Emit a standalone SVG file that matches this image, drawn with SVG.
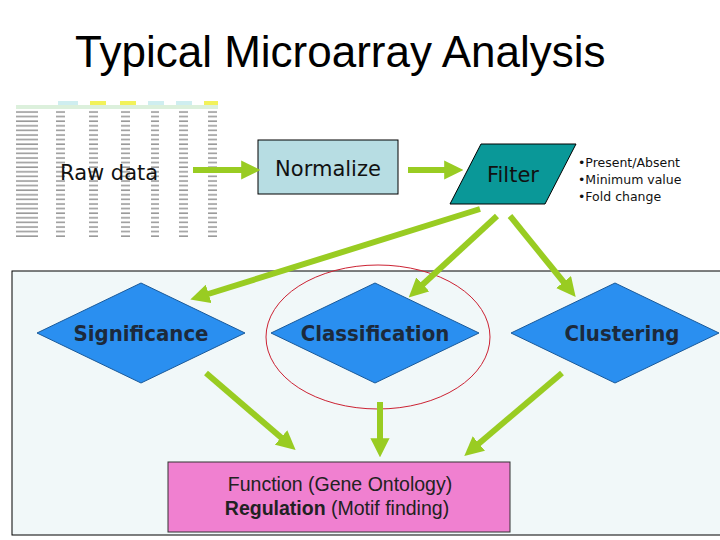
<svg xmlns="http://www.w3.org/2000/svg" width="720" height="540" viewBox="0 0 720 540">
<style>
.arr{stroke:#99cc22;stroke-width:6;fill:none;marker-end:url(#ah)}
.dia{fill:#2a8ff0;stroke:#1a5a9a;stroke-width:1}
.dl{font-family:"DejaVu Sans Condensed","DejaVu Sans",sans-serif;font-weight:bold;font-size:22px;fill:#1c2a3c;text-anchor:middle}
.cell{fill:#9a9a9a}
</style>
<defs>
<marker id="ah" viewBox="0 0 10 10" refX="2" refY="5" markerWidth="3.2" markerHeight="3.2" orient="auto" markerUnits="strokeWidth">
<path d="M0,0 L10,5 L0,10 z" fill="#99cc22"/>
</marker>
<pattern id="rows" x="16" y="110" width="202" height="4.6" patternUnits="userSpaceOnUse">
<rect x="0" y="1.2" width="22" height="1.6" class="cell"/>
<rect x="40" y="1.2" width="9" height="1.6" class="cell"/>
<rect x="73" y="1.2" width="9" height="1.6" class="cell"/>
<rect x="105" y="1.2" width="9" height="1.6" class="cell"/>
<rect x="135" y="1.2" width="8" height="1.6" class="cell"/>
<rect x="163" y="1.2" width="9" height="1.6" class="cell"/>
<rect x="192" y="1.2" width="9" height="1.6" class="cell"/>
</pattern>
</defs>
<rect width="720" height="540" fill="#fff"/>
<text x="75" y="67" font-family="Liberation Sans,Arial,sans-serif" font-size="44" fill="#000">Typical Microarray Analysis</text>

<rect x="12" y="271" width="712" height="264" fill="#f1f8f9" stroke="#000" stroke-width="1"/>

<g id="rawdata">
<rect x="58" y="101" width="20" height="4" fill="#cfeef0"/>
<rect x="90" y="101" width="16" height="4" fill="#f2f25a"/>
<rect x="120" y="101" width="16" height="4" fill="#f2f25a"/>
<rect x="148" y="101" width="16" height="4" fill="#cfeef0"/>
<rect x="176" y="101" width="16" height="4" fill="#cfeef0"/>
<rect x="204" y="101" width="14" height="4" fill="#f2f25a"/>
<rect x="16" y="105" width="202" height="4" fill="#dcf0dc"/>
<rect x="16" y="110" width="202" height="127" fill="url(#rows)"/>
<text x="60" y="180" font-family="DejaVu Sans,sans-serif" font-size="21" fill="#111">Raw data</text>
</g>

<g id="normalize">
<rect x="258" y="140" width="140" height="54" fill="#b7dde3" stroke="#000" stroke-width="1"/>
<text x="328" y="176" font-family="DejaVu Sans,sans-serif" font-size="21" fill="#111" text-anchor="middle">Normalize</text>
</g>

<g id="filter">
<polygon points="481,144 576,144 545,204 450,204" fill="#0a9898" stroke="#000" stroke-width="1"/>
<text x="513" y="182" font-family="DejaVu Sans,sans-serif" font-size="21" fill="#111" text-anchor="middle">Filter</text>
</g>

<g id="criteria" font-family="DejaVu Sans,sans-serif" font-size="12.5" fill="#111">
<text x="578" y="167">•Present/Absent</text>
<text x="578" y="184">•Minimum value</text>
<text x="578" y="201">•Fold change</text>
</g>

<g id="significance">
<polygon class="dia" points="37,333 141,283 245,333 141,383"/>
<text x="141" y="341" class="dl">Significance</text>
</g>
<g id="classification">
<polygon class="dia" points="271,333 375,283 479,333 375,383"/>
<text x="375" y="341" class="dl">Classification</text>
</g>
<g id="clustering">
<polygon class="dia" points="511,333 615,283 719,333 615,383"/>
<text x="622" y="341" class="dl">Clustering</text>
</g>

<ellipse cx="378" cy="337" rx="112" ry="72" fill="none" stroke="#cc2233" stroke-width="1"/>

<g id="function">
<rect x="168" y="462" width="342" height="70" fill="#f080d0" stroke="#333" stroke-width="1"/>
<text x="340" y="491" font-family="Liberation Sans,Arial,sans-serif" font-size="19.5" fill="#222" text-anchor="middle">Function (Gene Ontology)</text>
<text x="337" y="515" font-family="Liberation Sans,Arial,sans-serif" font-size="19.5" fill="#222" text-anchor="middle"><tspan font-weight="bold">Regulation</tspan> (Motif finding)</text>
</g>

<g id="connectors">
<line class="arr" x1="193" y1="170" x2="245" y2="170"/>
<line class="arr" x1="408" y1="170" x2="448" y2="170"/>
<line class="arr" x1="480" y1="209" x2="205" y2="295"/>
<line class="arr" x1="497" y1="216" x2="420" y2="287"/>
<line class="arr" x1="510" y1="216" x2="566" y2="285"/>
<line class="arr" x1="206" y1="373" x2="284" y2="440"/>
<line class="arr" x1="380" y1="402" x2="380" y2="442"/>
<line class="arr" x1="562" y1="373" x2="476" y2="446"/>
</g>
</svg>
